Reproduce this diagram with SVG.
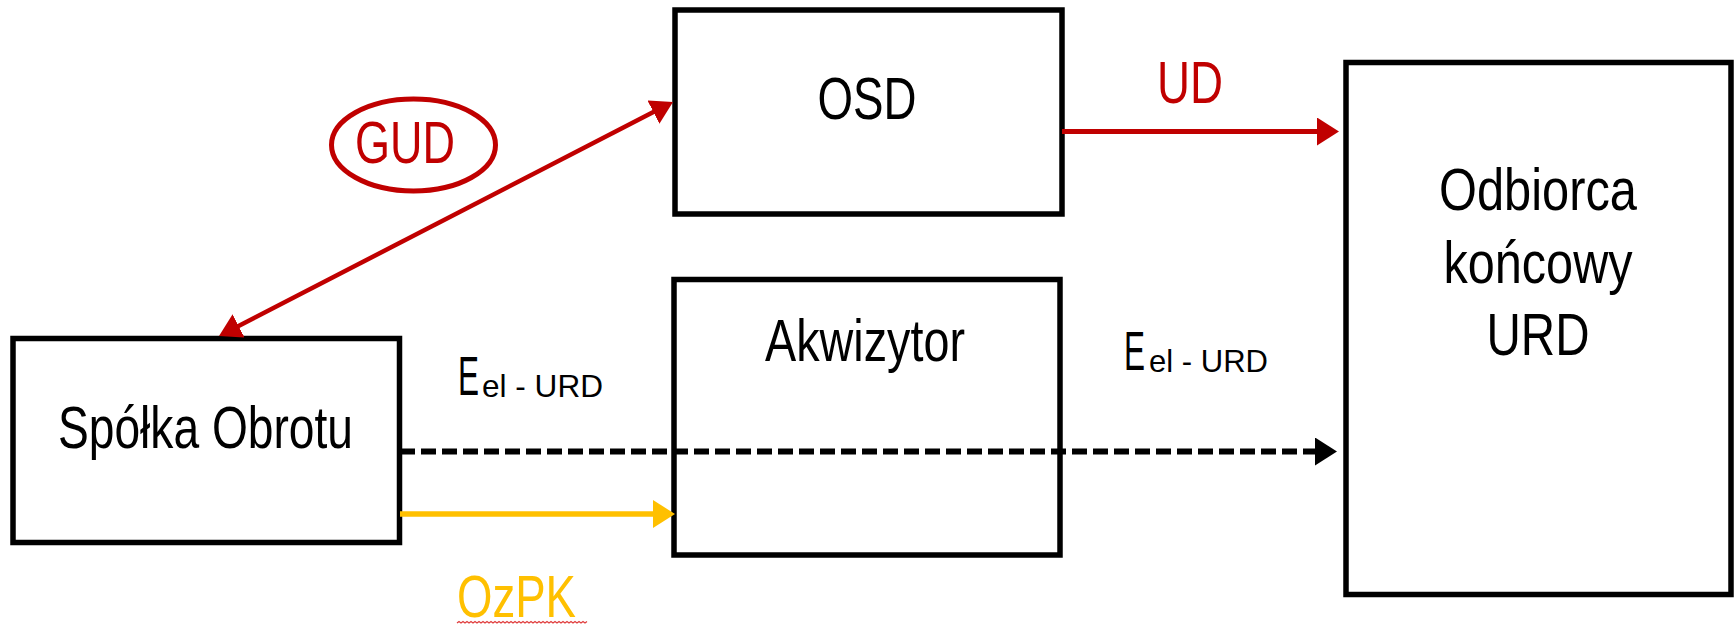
<svg xmlns="http://www.w3.org/2000/svg" width="1734" height="630" viewBox="0 0 1734 630">
<style>
.box{fill:#fff;stroke:#000;stroke-width:5.5}
.t{font-family:"Liberation Sans",Arial,sans-serif;fill:#000;text-anchor:middle}
.big{font-size:59px}
.red{fill:#C00000}
.yel{fill:#FFC000}
.sub{font-family:"Liberation Sans",Arial,sans-serif;fill:#000}
</style>
<defs>
<marker id="ahRed" markerUnits="userSpaceOnUse" viewBox="0 0 22 28" markerWidth="22" markerHeight="28" refX="12" refY="14" orient="auto-start-reverse"><path d="M0,0 L22,14 L0,28 z" fill="#C00000"/></marker>
<marker id="ahRedS" markerUnits="userSpaceOnUse" viewBox="0 0 22 26" markerWidth="22" markerHeight="26" refX="12" refY="13" orient="auto-start-reverse"><path d="M0,0 L22,13 L0,26 z" fill="#C00000"/></marker>
<marker id="ahBlk" markerUnits="userSpaceOnUse" viewBox="0 0 22 28" markerWidth="22" markerHeight="28" refX="12" refY="14" orient="auto"><path d="M0,0 L22,14 L0,28 z" fill="#000"/></marker>
<marker id="ahYel" markerUnits="userSpaceOnUse" viewBox="0 0 22 28" markerWidth="22" markerHeight="28" refX="12" refY="14" orient="auto"><path d="M0,0 L22,14 L0,28 z" fill="#FFC000"/></marker>
</defs>

<g id="node-osd">
<rect class="box" x="675" y="10" width="387" height="204"/>
<text class="t big" x="867" y="119" textLength="99" lengthAdjust="spacingAndGlyphs">OSD</text>
</g>

<g id="node-akwizytor">
<rect class="box" x="674" y="279.5" width="386" height="275.5"/>
<text class="t big" x="865" y="361" textLength="200" lengthAdjust="spacingAndGlyphs">Akwizytor</text>
</g>

<g id="node-spolka">
<rect class="box" x="13" y="338.5" width="386.5" height="204"/>
<text class="t big" x="205.5" y="448" textLength="295" lengthAdjust="spacingAndGlyphs">Spółka Obrotu</text>
</g>

<g id="node-odbiorca">
<rect class="box" x="1346" y="62.5" width="385" height="532"/>
<text class="t big" x="1538" y="210" textLength="198" lengthAdjust="spacingAndGlyphs">Odbiorca</text>
<text class="t big" x="1538" y="283" textLength="189" lengthAdjust="spacingAndGlyphs">końcowy</text>
<text class="t big" x="1538" y="355" textLength="103" lengthAdjust="spacingAndGlyphs">URD</text>
</g>

<g id="connectors">
<line x1="227.9" y1="331.4" x2="664.1" y2="106.6" stroke="#C00000" stroke-width="4.5" marker-start="url(#ahRedS)" marker-end="url(#ahRedS)"/>
<line x1="1062" y1="131.5" x2="1329" y2="131.5" stroke="#C00000" stroke-width="5" marker-end="url(#ahRed)"/>
<line x1="400" y1="451.5" x2="1327" y2="451.5" stroke="#000" stroke-width="6" stroke-dasharray="15 6" marker-end="url(#ahBlk)"/>
<line x1="400" y1="514" x2="665" y2="514" stroke="#FFC000" stroke-width="5.5" marker-end="url(#ahYel)"/>
</g>

<g id="label-gud">
<ellipse cx="413.5" cy="145" rx="82" ry="46" fill="none" stroke="#C00000" stroke-width="5"/>
<text class="t big red" x="405" y="162.5" textLength="100" lengthAdjust="spacingAndGlyphs">GUD</text>
</g>

<g id="label-ud">
<text class="t big red" x="1190" y="102.5" textLength="66" lengthAdjust="spacingAndGlyphs">UD</text>
</g>

<g id="label-eel-1">
<text class="sub" x="458" y="395"><tspan font-size="56" textLength="21" lengthAdjust="spacingAndGlyphs">E</tspan><tspan x="482" dy="2" font-size="32" textLength="121" lengthAdjust="spacingAndGlyphs">el - URD</tspan></text>
</g>

<g id="label-eel-2">
<text class="sub" x="1124" y="370"><tspan font-size="56" textLength="21" lengthAdjust="spacingAndGlyphs">E</tspan><tspan x="1149" dy="2" font-size="32" textLength="119" lengthAdjust="spacingAndGlyphs">el - URD</tspan></text>
</g>

<g id="label-ozpk">
<text class="t big yel" x="516.5" y="616.5" textLength="119" lengthAdjust="spacingAndGlyphs">OzPK</text>
<path d="M457,623 l2,-1.5 l2,1.5 l2,-1.5 l2,1.5 l2,-1.5 l2,1.5 l2,-1.5 l2,1.5 l2,-1.5 l2,1.5 l2,-1.5 l2,1.5 l2,-1.5 l2,1.5 l2,-1.5 l2,1.5 l2,-1.5 l2,1.5 l2,-1.5 l2,1.5 l2,-1.5 l2,1.5 l2,-1.5 l2,1.5 l2,-1.5 l2,1.5 l2,-1.5 l2,1.5 l2,-1.5 l2,1.5 l2,-1.5 l2,1.5 l2,-1.5 l2,1.5 l2,-1.5 l2,1.5 l2,-1.5 l2,1.5 l2,-1.5 l2,1.5 l2,-1.5 l2,1.5 l2,-1.5 l2,1.5 l2,-1.5 l2,1.5 l2,-1.5 l2,1.5 l2,-1.5 l2,1.5 l2,-1.5 l2,1.5 l2,-1.5 l2,1.5 l2,-1.5 l2,1.5 l2,-1.5 l2,1.5 l2,-1.5 l2,1.5 l2,-1.5 l2,1.5 l2,-1.5 l2,1.5 l2,-1.5" fill="none" stroke="#E04040" stroke-width="1.3"/>
</g>
</svg>
